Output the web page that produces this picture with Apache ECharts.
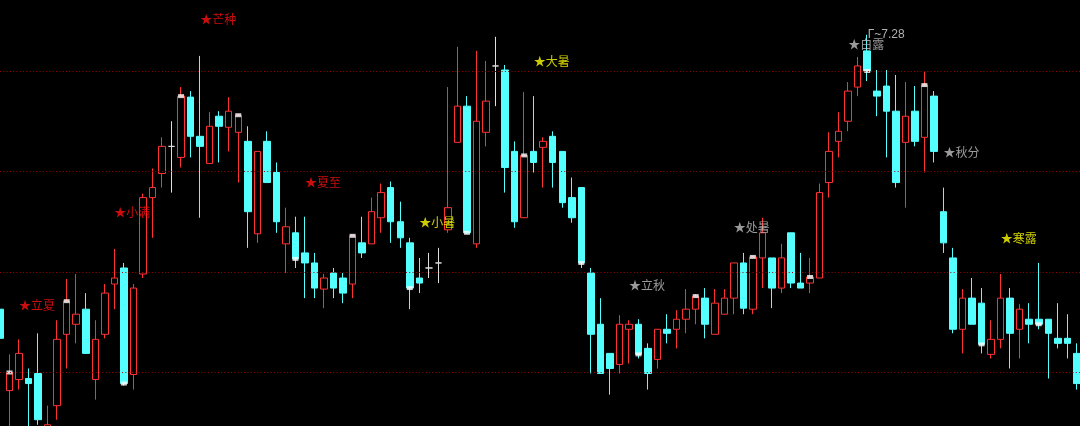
<!DOCTYPE html>
<html>
<head>
<meta charset="utf-8">
<script src="https://cdn.jsdelivr.net/npm/echarts@6/dist/echarts.min.js"></script>
<style>
html,body{margin:0;padding:0;background:#000;}
#chart{width:1080px;height:426px;}
</style>
</head>
<body>
<div id="chart"></div>
<script>
// ---- data (prices) ----
const opens = [5.915,5.510,5.565,5.570,5.595,5.305,5.435,5.790,5.840,5.915,
5.565,5.790,6.040,6.120,5.590,6.090,6.470,6.590,6.725,6.670,
6.970,6.775,6.640,6.875,6.820,6.795,6.750,6.290,6.750,6.595,
6.240,6.295,6.195,6.145,6.015,6.095,6.070,6.040,6.245,6.240,
6.370,6.520,6.350,6.245,6.070,6.120,6.145,6.310,6.745,6.925,
6.240,6.795,7.125,7.105,6.700,6.370,6.700,6.720,6.775,6.700,
6.470,6.520,6.095,5.840,5.695,5.640,5.815,5.840,5.720,5.665,
5.815,5.815,5.865,5.915,5.970,5.790,5.890,5.970,6.145,5.915,
6.170,6.170,6.020,6.295,6.045,6.045,6.070,6.545,6.750,6.850,
7.020,7.200,7.000,7.025,6.900,6.745,6.900,6.770,6.975,6.400,
6.170,5.815,5.970,5.945,5.690,5.765,5.970,5.815,5.865,5.865,
5.865,5.770,5.770,5.695];
const closes = [5.770,5.600,5.695,5.545,5.365,5.340,5.765,5.955,5.890,5.695,
5.765,5.995,6.070,5.545,6.020,6.470,6.520,6.725,6.725,6.975,
6.775,6.725,6.825,6.825,6.900,6.880,6.400,6.700,6.545,6.350,
6.325,6.165,6.145,6.020,6.070,6.020,5.995,6.280,6.195,6.400,
6.495,6.350,6.270,6.020,6.045,6.120,6.145,6.420,6.925,6.295,
6.850,6.950,7.125,6.620,6.350,6.680,6.645,6.750,6.645,6.445,
6.370,6.145,5.790,5.595,5.620,5.840,5.840,5.690,5.595,5.815,
5.795,5.865,5.915,5.980,5.840,5.945,5.970,6.145,5.920,6.175,
6.295,6.020,6.170,6.045,6.020,6.075,6.495,6.700,6.800,7.000,
7.125,7.100,6.975,6.900,6.545,6.875,6.750,7.030,6.700,6.245,
5.815,5.970,5.840,5.740,5.765,5.970,5.795,5.915,5.840,5.840,
5.795,5.745,5.745,5.545];
const lows = [5.770,5.305,5.515,5.305,5.340,5.285,5.365,5.620,5.745,5.695,
5.465,5.770,5.915,5.535,5.515,6.070,6.270,6.520,6.495,6.620,
6.670,6.370,6.640,6.645,6.700,6.545,6.220,6.245,6.545,6.295,
6.095,6.120,5.970,5.970,5.920,5.970,5.945,5.970,6.170,6.240,
6.295,6.245,6.220,5.915,5.995,6.070,6.045,6.295,6.745,6.290,
6.220,6.725,6.925,6.495,6.320,6.370,6.595,6.520,6.520,6.420,
6.345,6.120,5.595,5.595,5.490,5.595,5.645,5.670,5.515,5.620,
5.745,5.720,5.795,5.840,5.770,5.790,5.890,5.890,5.890,5.890,
6.020,5.920,5.995,6.020,6.020,5.995,6.070,6.470,6.670,6.800,
6.975,7.050,6.875,6.670,6.520,6.420,6.725,6.595,6.645,6.195,
5.795,5.695,5.840,5.695,5.670,5.720,5.620,5.670,5.745,5.815,
5.570,5.720,5.670,5.515];
const highs = [5.915,5.690,5.765,5.620,5.795,5.435,5.860,6.065,6.090,5.995,
5.860,6.040,6.215,6.145,6.040,6.490,6.615,6.770,6.850,7.020,
7.000,7.175,6.895,6.900,6.970,6.885,6.825,6.700,6.800,6.645,
6.420,6.375,6.375,6.195,6.090,6.120,6.095,6.280,6.375,6.470,
6.540,6.550,6.450,6.270,6.170,6.195,6.220,7.020,7.220,6.975,
7.200,7.150,7.270,7.130,6.750,6.995,6.975,6.770,6.800,6.700,
6.570,6.520,6.120,5.970,5.695,5.885,5.860,5.865,5.745,5.815,
5.890,5.910,6.015,5.990,6.020,6.015,6.015,6.145,6.195,6.180,
6.370,6.170,6.240,6.295,6.195,6.170,6.540,6.795,6.895,7.045,
7.170,7.280,7.105,7.105,7.080,7.045,7.025,7.095,7.000,6.520,
6.220,6.015,6.070,6.020,5.860,6.090,6.020,5.940,5.945,6.145,
5.865,5.945,5.890,5.745];

// candles that carry the white signal mark (at their close)
const signalIndex = [1,7,13,19,25,31,37,43,49,55,61,67,73,79,85,91,97,103,109];

// solar-term annotations
const termNames = ['立夏','小满','芒种','夏至','小暑','大暑','立秋','处暑','白露','秋分','寒露'];
const termIndex = [2,12,21,32,44,56,66,77,89,99,105];
const termLevel = [5.935,6.395,7.355,6.545,6.345,7.150,6.035,6.320,7.230,6.695,6.265];

// horizontal reference levels
const gridLevels = [7.1, 6.6, 6.1, 5.6];

// ---- styles ----
const termColor = {
  '立夏':'#ff1010','小满':'#ff1010','芒种':'#ff1010','夏至':'#ff1010',
  '小暑':'#ffff00','大暑':'#ffff00','寒露':'#ffff00',
  '立秋':'#c0c0c0','处暑':'#c0c0c0','白露':'#c0c0c0','秋分':'#c0c0c0'
};
const UP = '#ff3232', DOWN = '#54ffff';

const categories = opens.map((_, i) => String(i + 1));
const candleData = opens.map((o, i) => [o, closes[i], lows[i], highs[i]]);
const signalData = signalIndex.map(i => [i, closes[i]]);
const termData = termNames.map((n, k) => ({
  value: [termIndex[k], termLevel[k]],
  label: { color: termColor[n] }
}));

const chart = echarts.init(document.getElementById('chart'), null, {renderer: 'canvas'});
chart.setOption({
  backgroundColor: '#000000',
  animation: false,
  grid: { left: 0, right: 3.1, top: 0, bottom: 0 },
  xAxis: {
    type: 'category', data: categories, boundaryGap: false,
    axisLine: {show: false}, axisTick: {show: false}, axisLabel: {show: false}, splitLine: {show: false}
  },
  yAxis: {
    type: 'value', min: 5.3338, max: 7.4532, scale: true,
    axisLine: {show: false}, axisTick: {show: false}, axisLabel: {show: false}, splitLine: {show: false}
  },
  series: [
    {
      type: 'candlestick',
      z: 3,
      clip: false,
      data: candleData,
      barWidth: 7,
      itemStyle: {
        color: 'rgba(0,0,0,0)', color0: DOWN,
        borderColor: UP, borderColor0: DOWN,
        borderColorDoji: '#dedede',
        borderWidth: 1
      },
      markLine: {
        silent: true, symbol: ['none', 'none'],
        label: {show: false},
        lineStyle: {color: '#a00000', type: [1, 2.3], width: 1},
        data: gridLevels.map(v => [{yAxis: v, x: 0}, {yAxis: v, x: '100%'}])
      },
      markPoint: {
        symbol: 'circle', symbolSize: 1,
        itemStyle: {color: 'rgba(0,0,0,0)'},
        label: {
          show: true, position: 'right', distance: 0,
          color: '#b0b0b0', fontSize: 12, fontFamily: 'Liberation Sans',
          formatter: p => 'Γ~' + p.value.toFixed(2)
        },
        data: [{type: 'max', valueDim: 'highest'}]
      }
    },
    {
      type: 'scatter',
      z: 4,
      data: signalData,
      symbol: 'rect', symbolSize: [6, 4],
      itemStyle: {color: '#ffffff'}
    },
    {
      type: 'scatter',
      z: 5,
      data: termData,
      symbolSize: 0,
      itemStyle: {color: 'rgba(0,0,0,0)'},
      label: {
        show: true, position: 'right', distance: 0,
        fontSize: 12, fontFamily: '"Noto Sans CJK SC", sans-serif',
        formatter: p => '★' + termNames[p.dataIndex]
      }
    }
  ]
});
</script>
</body>
</html>
